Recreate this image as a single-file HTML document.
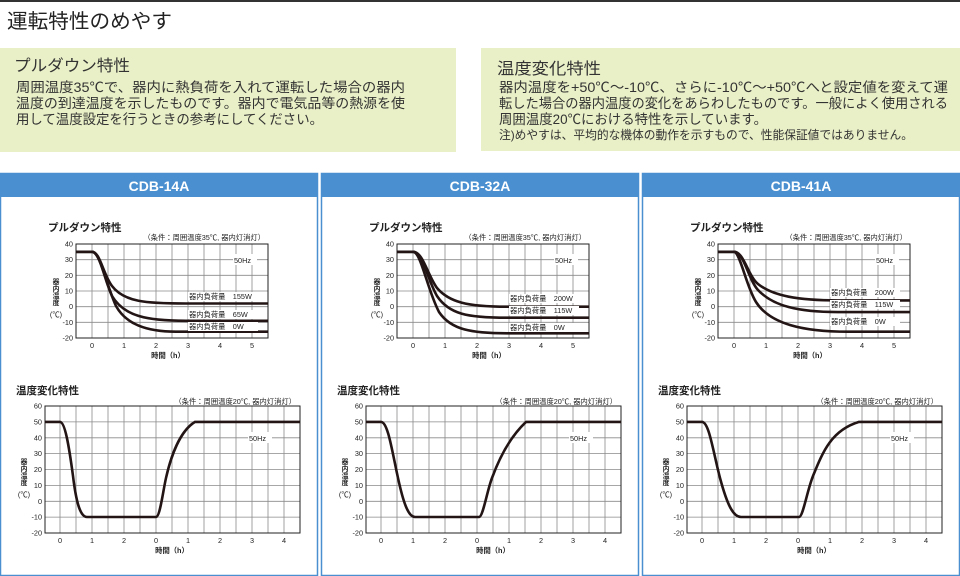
<!DOCTYPE html>
<html><head><meta charset="utf-8"><style>
body{margin:0;background:#fff;}
svg{display:block;font-family:"Liberation Sans","Noto Sans CJK JP",sans-serif;}
.g{stroke:#8a8a8a;stroke-width:0.8;fill:none}
.c{stroke:#231515;stroke-width:2.6;fill:none;stroke-linejoin:round}
.t{font-size:7.3px;fill:#222}
.b{font-weight:bold;fill:#222}
</style></head><body>
<svg width="960" height="576" viewBox="0 0 960 576" xmlns="http://www.w3.org/2000/svg">
<defs>
<g id="pg">
<path class="g" d="M16,0V94M32,0V94M48,0V94M64,0V94M80,0V94M96,0V94M112,0V94M128,0V94M144,0V94M160,0V94M176,0V94M0,15.67H192M0,31.33H192M0,47H192M0,62.67H192M0,78.33H192"/>
<rect x="0" y="0" width="192" height="94" fill="none" stroke="#222" stroke-width="1"/>
</g>
<g id="tg">
<path class="g" d="M15,0V127M31,0V127M47,0V127M63,0V127M79,0V127M95,0V127M111,0V127M127,0V127M143,0V127M159,0V127M175,0V127M191,0V127M207,0V127M223,0V127M239,0V127M0,15.9H255M0,31.8H255M0,47.6H255M0,63.5H255M0,79.4H255M0,95.3H255M0,111.1H255"/>
<rect x="0" y="0" width="255" height="127" fill="none" stroke="#222" stroke-width="1"/>
</g>
<g id="pax" class="t" text-anchor="end">
<text x="73" y="246.5">40</text><text x="73" y="262">30</text><text x="73" y="278">20</text><text x="73" y="293.5">10</text><text x="73" y="309">0</text><text x="73" y="325">-10</text><text x="73" y="340.5">-20</text>
</g>
<g id="pxx" class="t" text-anchor="middle">
<text x="92" y="348">0</text><text x="124" y="348">1</text><text x="156" y="348">2</text><text x="188" y="348">3</text><text x="220" y="348">4</text><text x="252" y="348">5</text>
<text x="168" y="358" font-weight="bold">時間（h）</text>
<g font-weight="bold" font-size="6.8"><text x="56" y="284">器</text><text x="56" y="291">内</text><text x="56" y="298">温</text><text x="56" y="305">度</text></g><text x="56" y="317">(℃)</text>
</g>
<g id="tax" class="t">
<g text-anchor="end"><text x="42" y="408.5">60</text><text x="42" y="424.5">50</text><text x="42" y="440.5">40</text><text x="42" y="456">30</text><text x="42" y="472">20</text><text x="42" y="488">10</text><text x="42" y="504">0</text><text x="42" y="519.5">-10</text><text x="42" y="535.5">-20</text></g>
<g text-anchor="middle"><text x="60" y="543">0</text><text x="92" y="543">1</text><text x="124" y="543">2</text><text x="156" y="543">0</text><text x="188" y="543">1</text><text x="220" y="543">2</text><text x="252" y="543">3</text><text x="284" y="543">4</text>
<text x="172" y="553" font-weight="bold">時間（h）</text>
<g font-weight="bold" font-size="6.8"><text x="24" y="464">器</text><text x="24" y="471">内</text><text x="24" y="478">温</text><text x="24" y="485">度</text></g><text x="24" y="497">(℃)</text></g>
</g>
</defs>

<line x1="0" y1="1" x2="960" y2="1" stroke="#333" stroke-width="2"/>
<text x="7" y="28" font-size="20" fill="#222" textLength="165" lengthAdjust="spacingAndGlyphs">運転特性のめやす</text>

<rect x="0" y="48" width="456" height="104" fill="#e9efc6"/>
<text x="14" y="71" font-size="16" fill="#333" textLength="116" lengthAdjust="spacingAndGlyphs">プルダウン特性</text>
<g font-size="13.5" fill="#333">
<text x="16" y="92" textLength="389" lengthAdjust="spacingAndGlyphs">周囲温度35℃で、器内に熱負荷を入れて運転した場合の器内</text>
<text x="16" y="108" textLength="389" lengthAdjust="spacingAndGlyphs">温度の到達温度を示したものです。器内で電気品等の熱源を使</text>
<text x="16" y="124" textLength="307" lengthAdjust="spacingAndGlyphs">用して温度設定を行うときの参考にしてください。</text>
</g>
<rect x="481" y="48" width="479" height="103" fill="#e9efc6"/>
<text x="497" y="74" font-size="16" fill="#333" textLength="104" lengthAdjust="spacingAndGlyphs">温度変化特性</text>
<g font-size="13.5" fill="#333">
<text x="499" y="92" textLength="449" lengthAdjust="spacingAndGlyphs">器内温度を+50℃～-10℃、さらに-10℃～+50℃へと設定値を変えて運</text>
<text x="499" y="108" textLength="449" lengthAdjust="spacingAndGlyphs">転した場合の器内温度の変化をあらわしたものです。一般によく使用される</text>
<text x="499" y="124" textLength="268" lengthAdjust="spacingAndGlyphs">周囲温度20℃における特性を示しています。</text>
<text x="499" y="139" font-size="12" textLength="414" lengthAdjust="spacingAndGlyphs">注)めやすは、平均的な機体の動作を示すもので、性能保証値ではありません。</text>
</g>

<!-- Panel 1 -->
<g>
<rect x="0.5" y="173.5" width="317" height="402" fill="#fff" stroke="#4a90d0" stroke-width="1.5"/>
<rect x="0" y="173" width="318" height="24" fill="#4a90d0"/>
<text x="159" y="191" font-size="14" font-weight="bold" fill="#fff" text-anchor="middle">CDB-14A</text>
<text x="48" y="231" font-size="10.5" class="b">プルダウン特性</text>
<text x="265" y="240" class="t" text-anchor="end">（条件：周囲温度35℃, 器内灯消灯）</text>
<use href="#pg" transform="translate(76,244)"/>
<use href="#pax"/><use href="#pxx"/>
<g transform="translate(76,244)">
<rect x="157" y="10" width="24" height="11" fill="#fff"/><text x="158" y="19" class="t" font-size="8">50Hz</text>
<path class="c" d="M0,7.8L16,7.8C24,7.8 27,30 36,42C48,58 70,59.5 110,59.5L192,59.5"/>
<path class="c" d="M0,7.8L16,7.8C24,7.8 28,35 36,52C48,72 70,76.8 110,76.8L192,76.8"/>
<path class="c" d="M0,7.8L16,7.8C24,7.8 30,40 40,62C50,80 70,87.7 100,87.7L192,87.7"/>
<rect x="112" y="48" width="70" height="9" fill="#fff"/><text x="113" y="55" class="t">器内負荷量　155W</text>
<rect x="112" y="66" width="70" height="9" fill="#fff"/><text x="113" y="73" class="t">器内負荷量　65W</text>
<rect x="112" y="78" width="70" height="9" fill="#fff"/><text x="113" y="85" class="t">器内負荷量　0W</text>
</g>
<text x="16" y="394" font-size="10.5" class="b">温度変化特性</text>
<text x="296" y="404" class="t" text-anchor="end">（条件：周囲温度20℃, 器内灯消灯）</text>
<use href="#tg" transform="translate(45,406)"/>
<use href="#tax"/>
<g transform="translate(45,406)">
<rect x="203" y="26" width="24" height="11" fill="#fff"/><text x="204" y="35" class="t" font-size="8">50Hz</text>
<path class="c" d="M0,15.9L15,15.9C20,15.9 24,40 28,70C31,95 35,111 42,111L111,111C115,111 118,85 121,72C126,50 135,25 150,15.9L255,15.9"/>
</g>
</g>

<!-- Panel 2 -->
<g transform="translate(321,0)">
<rect x="0.5" y="173.5" width="317" height="402" fill="#fff" stroke="#4a90d0" stroke-width="1.5"/>
<rect x="0" y="173" width="318" height="24" fill="#4a90d0"/>
<text x="159" y="191" font-size="14" font-weight="bold" fill="#fff" text-anchor="middle">CDB-32A</text>
<text x="48" y="231" font-size="10.5" class="b">プルダウン特性</text>
<text x="265" y="240" class="t" text-anchor="end">（条件：周囲温度35℃, 器内灯消灯）</text>
<use href="#pg" transform="translate(76,244)"/>
<use href="#pax"/><use href="#pxx"/>
<g transform="translate(76,244)">
<rect x="157" y="10" width="24" height="11" fill="#fff"/><text x="158" y="19" class="t" font-size="8">50Hz</text>
<path class="c" d="M0,7.8L16,7.8C26,7.8 30,30 40,44C52,58 70,62.7 110,62.7L192,62.7"/>
<path class="c" d="M0,7.8L16,7.8C26,7.8 30,35 40,52C52,70 70,73.7 110,73.7L192,73.7"/>
<path class="c" d="M0,7.8L16,7.8C24,7.8 30,45 42,68C54,86 75,89.3 110,89.3L192,89.3"/>
<rect x="112" y="50" width="70" height="9" fill="#fff"/><text x="113" y="57" class="t">器内負荷量　200W</text>
<rect x="112" y="62" width="70" height="9" fill="#fff"/><text x="113" y="69" class="t">器内負荷量　115W</text>
<rect x="112" y="79" width="70" height="9" fill="#fff"/><text x="113" y="86" class="t">器内負荷量　0W</text>
</g>
<text x="16" y="394" font-size="10.5" class="b">温度変化特性</text>
<text x="296" y="404" class="t" text-anchor="end">（条件：周囲温度20℃, 器内灯消灯）</text>
<use href="#tg" transform="translate(45,406)"/>
<use href="#tax"/>
<g transform="translate(45,406)">
<rect x="203" y="26" width="24" height="11" fill="#fff"/><text x="204" y="35" class="t" font-size="8">50Hz</text>
<path class="c" d="M0,15.9L15,15.9C22,15.9 26,45 32,72C37,95 42,111 49,111L113,111C117,111 121,85 126,72C134,50 145,30 160,15.9L255,15.9"/>
</g>
</g>

<!-- Panel 3 -->
<g transform="translate(642,0)">
<rect x="0.5" y="173.5" width="317" height="402" fill="#fff" stroke="#4a90d0" stroke-width="1.5"/>
<rect x="0" y="173" width="318" height="24" fill="#4a90d0"/>
<text x="159" y="191" font-size="14" font-weight="bold" fill="#fff" text-anchor="middle">CDB-41A</text>
<text x="48" y="231" font-size="10.5" class="b">プルダウン特性</text>
<text x="265" y="240" class="t" text-anchor="end">（条件：周囲温度35℃, 器内灯消灯）</text>
<use href="#pg" transform="translate(76,244)"/>
<use href="#pax"/><use href="#pxx"/>
<g transform="translate(76,244)">
<rect x="157" y="10" width="24" height="11" fill="#fff"/><text x="158" y="19" class="t" font-size="8">50Hz</text>
<path class="c" d="M0,7.8L16,7.8C26,7.8 30,32 40,40C55,52 80,56.4 120,56.4L192,56.4"/>
<path class="c" d="M0,7.8L16,7.8C26,7.8 30,35 40,46C55,62 80,68.1 120,68.1L192,68.1"/>
<path class="c" d="M0,7.8L16,7.8C22,7.8 28,42 38,58C52,80 85,87.7 130,87.7L192,87.7"/>
<rect x="112" y="44" width="70" height="9" fill="#fff"/><text x="113" y="51" class="t">器内負荷量　200W</text>
<rect x="112" y="56" width="70" height="9" fill="#fff"/><text x="113" y="63" class="t">器内負荷量　115W</text>
<rect x="112" y="73" width="70" height="9" fill="#fff"/><text x="113" y="80" class="t">器内負荷量　0W</text>
</g>
<text x="16" y="394" font-size="10.5" class="b">温度変化特性</text>
<text x="296" y="404" class="t" text-anchor="end">（条件：周囲温度20℃, 器内灯消灯）</text>
<use href="#tg" transform="translate(45,406)"/>
<use href="#tax"/>
<g transform="translate(45,406)">
<rect x="203" y="26" width="24" height="11" fill="#fff"/><text x="204" y="35" class="t" font-size="8">50Hz</text>
<path class="c" d="M0,15.9L15,15.9C22,15.9 26,45 33,72C40,98 46,111 54,111L112,111C116,111 120,85 126,70C136,45 145,24 172,15.9L255,15.9"/>
</g>
</g>
</svg>
</body></html>
